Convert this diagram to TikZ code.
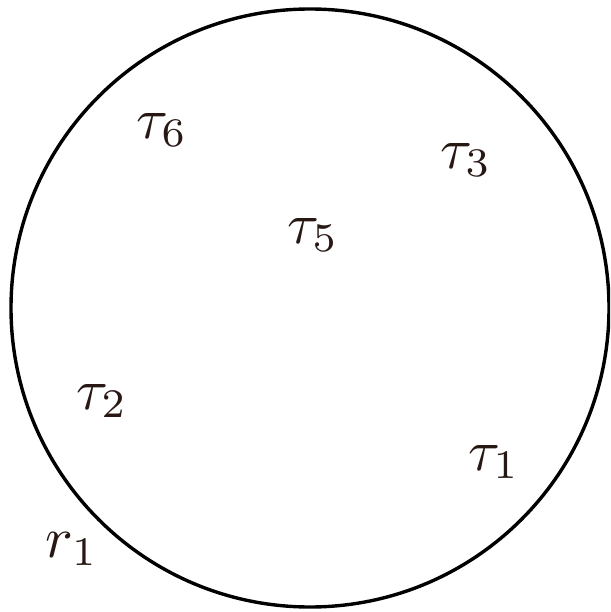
\documentclass[tikz,border=0pt]{standalone}
\definecolor{labelcol}{RGB}{40,24,20}
\tikzset{lbl/.style={text=labelcol,inner sep=0pt}}
\newcommand{\biglbl}[1]{\scalebox{5.8}{$#1$}}
\begin{document}
\begin{tikzpicture}[x=1pt,y=-1pt]
\useasboundingbox (0,0) rectangle (610,612);
\clip (0,0) rectangle (610,612);
\draw[line width=3.4pt] (310,308) circle[radius=299] coordinate (c);
\node[lbl] (t6) at (162,130) {\biglbl{\tau_6}};
\node[lbl] (t3) at (466,160) {\biglbl{\tau_3}};
\node[lbl] (t5) at (313,235) {\biglbl{\tau_5}};
\node[lbl] (t2) at (102,401) {\biglbl{\tau_2}};
\node[lbl] (t1) at (494,462) {\biglbl{\tau_1}};
\node[lbl] (r1) at (72,549) {\biglbl{r_1}};
\end{tikzpicture}
\end{document}
